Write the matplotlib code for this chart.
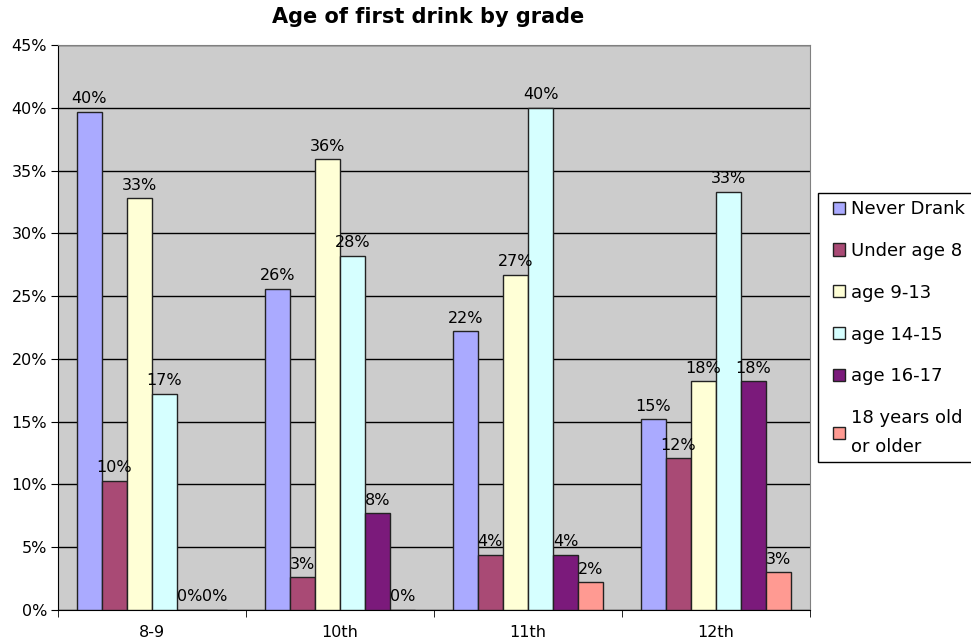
import numpy as np
import matplotlib
matplotlib.use('Agg')
import matplotlib.pyplot as plt
from matplotlib.patches import Rectangle

# data (percent)
grades = ['8-9', '10th', '11th', '12th']
series = ['Never Drank', 'Under age 8', 'age 9-13', 'age 14-15', 'age 16-17', '18 years old\nor older']
never_drank = [39.7, 25.6, 22.2, 15.2]
under_8 = [10.3, 2.6, 4.4, 12.1]
age_9_13 = [32.8, 35.9, 26.7, 18.2]
age_14_15 = [17.2, 28.2, 40.0, 33.3]
age_16_17 = [0.0, 7.7, 4.4, 18.2]
age_18_up = [0.0, 0.0, 2.2, 3.0]
values = [never_drank, under_8, age_9_13, age_14_15, age_16_17, age_18_up]
colors = ['#aaaaff', '#a94a75', '#ffffd6', '#d6ffff', '#7b1a7b', '#ff9a92']

plt.rcParams['font.family'] = ['DejaVu Sans']

fig = plt.figure(figsize=(9.71, 6.42), dpi=100)
ax = fig.add_axes([58/971, 32/642, 752/971, 565/642])
ax.set_facecolor('#cccccc')

x = np.arange(len(grades))
w = 0.8 / len(series)
for i, (name, vals, c) in enumerate(zip(series, values, colors)):
    pos = x - 0.4 + w * (i + 0.5)
    ax.bar(pos, vals, width=w, color=c, edgecolor='#222222', linewidth=1, label=name, zorder=3)
    for p, v in zip(pos, vals):
        ax.annotate(f'{round(v):.0f}%', (p, v), xytext=(0, 4), textcoords='offset points',
                    ha='center', va='bottom', fontsize=11.5, zorder=4)

ax.set_xlim(-0.5, 3.5)
ax.set_ylim(0, 45)
ax.set_yticks(np.arange(0, 46, 5))
ax.set_yticklabels([f'{t}%' for t in range(0, 46, 5)], fontsize=11.5)
ax.yaxis.grid(True, color='black', linewidth=1, zorder=1)
ax.set_axisbelow(True)

ax.set_xticks(x)
ax.set_xticklabels(grades, fontsize=11.5)
ax.tick_params(axis='x', which='major', length=0, pad=11)
ax.set_xticks(np.arange(-0.5, 4, 1), minor=True)
ax.tick_params(axis='x', which='minor', length=5, direction='out')
ax.tick_params(axis='y', length=5, direction='out', pad=3)

for s in ['top', 'right']:
    ax.spines[s].set_color('#808080')
for s in ['left', 'bottom']:
    ax.spines[s].set_color('black')

fig.text(428/971, 1 - 17/642, 'Age of first drink by grade', ha='center', va='center',
         fontsize=15, fontweight='bold')

# legend box runs off the right edge like the original
fig.patches.append(Rectangle((818/971, 1 - 462/642), 170/971, 269/642, transform=fig.transFigure,
                             facecolor='white', edgecolor='black', linewidth=1, zorder=1))
leg = fig.legend(loc='upper left', bbox_to_anchor=(833/971, 1 - 200/642), fontsize=13,
                 frameon=False, handlelength=0.65, handleheight=0.65, handletextpad=0.35,
                 labelspacing=1.32, borderpad=0, borderaxespad=0)
leg.set_zorder(2)
leg.get_texts()[-1].set_linespacing(1.75)

fig.savefig('out.png', dpi=100)
